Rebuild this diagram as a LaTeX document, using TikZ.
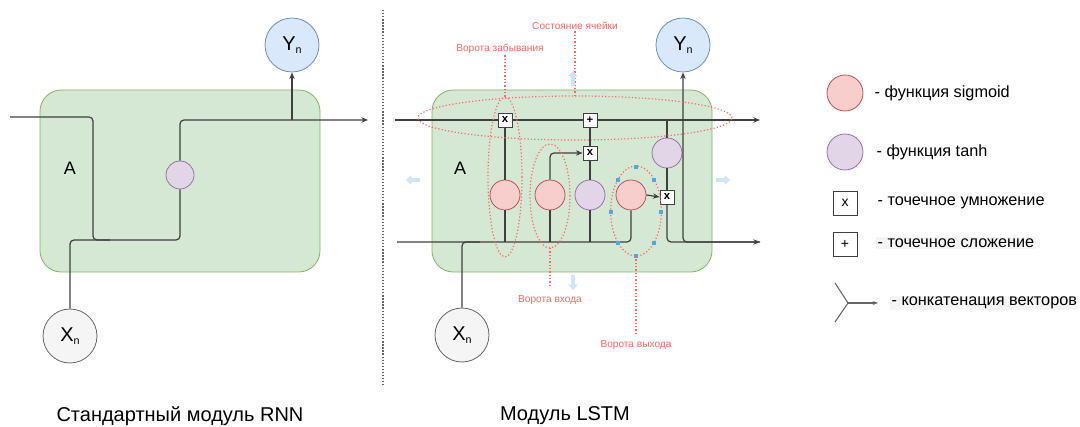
\documentclass[tikz,border=0pt]{standalone}
\usepackage{fontspec}
\setmainfont{Liberation Sans}
\usetikzlibrary{arrows.meta,shapes.geometric}
\definecolor{gfill}{HTML}{D5E8D4}
\definecolor{gline}{HTML}{82B366}
\definecolor{bfill}{HTML}{DAE8FC}
\definecolor{bline}{HTML}{6C8EBF}
\definecolor{xfill}{HTML}{F5F5F5}
\definecolor{xline}{HTML}{666666}
\definecolor{sfill}{HTML}{F8CECC}
\definecolor{sline}{HTML}{B85450}
\definecolor{tfill}{HTML}{E1D5E7}
\definecolor{tline}{HTML}{9673A6}
\definecolor{wirec}{HTML}{404040}
\definecolor{redc}{HTML}{FF6666}
\definecolor{hover}{HTML}{CDE5F7}
\definecolor{handle}{HTML}{4FA8E0}
\begin{document}
\begin{tikzpicture}[x=0.75pt,y=-0.75pt,
  cellbox/.style={draw=gline,fill=gfill,rounded corners=16pt,minimum width=210pt,minimum height=136.5pt,line width=0.6pt},
  ionode/.style={circle,minimum size=40.5pt,inner sep=0pt,line width=0.6pt,font=\fontsize{15}{15}\selectfont},
  ynode/.style={ionode,draw=bline,fill=bfill},
  xnode/.style={ionode,draw=xline,fill=xfill},
  sig/.style={circle,draw=sline,fill=sfill,minimum size=22.5pt,inner sep=0pt,line width=0.6pt},
  tnh/.style={circle,draw=tline,fill=tfill,minimum size=22.5pt,inner sep=0pt,line width=0.6pt},
  opbox/.style={draw=wirec,fill=white,minimum size=10.5pt,inner sep=0pt,line width=0.6pt,font=\bfseries\fontsize{8.5}{8.5}\selectfont},
  wire/.style={draw=wirec,line width=0.9pt,rounded corners=3pt},
  arr/.style={-{Stealth[length=5pt,width=4pt]}},
  gate/.style={draw=redc,line width=0.9pt,dash pattern=on 0.9pt off 1.6pt},
  redlab/.style={text=redc,font=\fontsize{7.6}{7.6}\selectfont,inner sep=1pt},
  bigtxt/.style={font=\fontsize{13.5}{13.5}\selectfont},
  captxt/.style={font=\fontsize{15}{15}\selectfont},
  legtxt/.style={anchor=west,font=\fontsize{12.2}{12.2}\selectfont,inner sep=1pt},
  hov/.style={draw=hover,line width=2.4pt,-{Triangle[length=4pt,width=7pt]}},
  hdl/.style={fill=handle,minimum size=2.4pt,inner sep=0pt}
]
\useasboundingbox (0,0) rectangle (1080,427);

% ================= RNN =================
\node[cellbox] (rbox) at (180,181) {};
\node[bigtxt] (rA) at (70,168) {A};
\node[ynode] (ry) at (292,45) {Y\raisebox{-0.35ex}{\fontsize{8}{8}\selectfont n}};
\node[xnode] (rx) at (70,336) {X\raisebox{-0.35ex}{\fontsize{8}{8}\selectfont n}};
\node[tnh, minimum size=21pt] (rt) at (180,175) {};
\coordinate (rin) at (10,117);
\coordinate (rout) at (368,120);
\coordinate (rbot) at (93,240);
\draw[wire] (rin) -| (rbot) -| (rt.south);
\draw[wire,arr] (rt.north) |- (rout);
\draw[wire,arr] (ry.south |- rout) -- (ry.south);
\draw[wire] (rx.north) |- (110,240);
\node[captxt] (rcap) at (180,416) {Стандартный модуль RNN};

% separator
\coordinate (sepa) at (383,10);
\coordinate (sepb) at (383,385);
\draw[draw=xline,line width=1.1pt,dash pattern=on 1pt off 1.3pt] (sepa) -- (sepb);

% ================= LSTM =================
\node[cellbox] (lbox) at (572,181) {};
\node[bigtxt] (lA) at (460,168) {A};
\node[ynode] (ly) at (683,45) {Y\raisebox{-0.35ex}{\fontsize{8}{8}\selectfont n}};
\node[xnode] (lx) at (462,335) {X\raisebox{-0.35ex}{\fontsize{8}{8}\selectfont n}};

\coordinate (cin) at (395,120);
\coordinate (cout) at (760,120);
\coordinate (hin) at (397,242);
\coordinate (hout) at (760,242);

\node[sig] (fs) at (505,195) {};
\node[sig] (is) at (550,195) {};
\node[tnh] (ct) at (590,195) {};
\node[sig] (os) at (631,195) {};
\node[tnh] (ut) at (667,153) {};

% wires
\draw[wire,arr] (cin) -- (cout);
\draw[wire] (hin) -| (os.south);
\draw[wire] (lx.north) |- (480,242);
\draw[wire,{Stealth[length=5pt,width=4pt]}-] (ly.south) |- (hout);

\node[opbox] (fx) at (505,120) {x};
\node[opbox] (px) at (590,120) {+};
\node[opbox] (mx) at (590,153) {x};
\node[opbox] (ox) at (667,197) {x};

\draw[wire] (fs.north) -- (fx.south);
\draw[wire] (fs.south) -- (fs.south |- hin);
\draw[wire,arr] (is.north) |- (mx.west);
\draw[wire] (is.south) -- (is.south |- hin);
\draw[wire] (ct.north) -- (mx.south);
\draw[wire] (mx.north) -- (px.south);
\draw[wire] (ct.south) -- (ct.south |- hin);
\draw[wire,arr] (os.east) -- (ox.west);
\draw[wire] (ut.north) -- (ut.north |- cin);
\draw[wire] (ut.south) -- (ox.north);
\draw[wire,arr] (ox.south) |- (hout);

% gate ellipses
\draw[gate] (575,118) ellipse [x radius=117.75pt, y radius=16.5pt];
\draw[gate] (505,177) ellipse [x radius=12.75pt, y radius=60pt];
\draw[gate] (550,196) ellipse [x radius=15pt, y radius=39pt];
\draw[gate] (636,211) ellipse [x radius=19pt, y radius=33.75pt];

% selection handles on output gate
\foreach \p in {(636,167),(654,180),(618,180),(611,212),(661,212),(618,243),(654,243),(636,256)}
  \node[hdl] at \p {};

% labels
\node[redlab] (lcs) at (575,26) {Состояние ячейки};
\node[redlab] (lfg) at (500,49) {Ворота забывания};
\node[redlab] (lig) at (550,300) {Ворота входа};
\node[redlab] (log) at (636,345) {Ворота выхода};
\coordinate (ecs) at (575,97);
\coordinate (efg) at (505,98);
\coordinate (eig) at (550,248);
\coordinate (eog) at (636,256);
\draw[gate] (lcs.south) -- (ecs);
\draw[gate] (lfg.south -| efg) -- (efg);
\draw[gate] (eig) -- (550,288);
\draw[gate] (eog) -- (636,334);

% hover arrows
\coordinate (hu) at (573,86);
\draw[hov] (hu) -- (573,71);
\coordinate (hl) at (420,180);
\draw[hov] (hl) -- (406,180);
\coordinate (hr) at (716,180);
\draw[hov] (hr) -- (730,180);
\coordinate (hd) at (573,275);
\draw[hov] (hd) -- (573,290);

\node[captxt] (lcap) at (565,416) {Модуль LSTM};

% ================= Legend =================
\node[sig,minimum size=27pt] (gs) at (845,93) {};
\node[legtxt] (gst) at (873,93) {- функция sigmoid};
\node[tnh,minimum size=27pt] (gt) at (845,152) {};
\node[legtxt] (gtt) at (875,152) {- функция tanh};
\node[opbox,minimum size=18pt,font=\fontsize{10.5}{10.5}\selectfont] (gx) at (845,203) {x};
\node[legtxt] (gxt) at (876,203) {- точечное умножение};
\node[opbox,minimum size=18pt,font=\fontsize{10.5}{10.5}\selectfont] (gp) at (845,244) {+};
\node[legtxt,fill=xfill] (gpt) at (876,243) {- точечное сложение};
\coordinate (ca) at (835,283);
\coordinate (cb) at (835,322);
\coordinate (cj) at (848,303);
\coordinate (ce) at (878,303);
\draw[draw=xline,line width=0.8pt] (ca) -- (cj) -- (cb);
\draw[draw=xline,line width=0.8pt,-{Stealth[length=4pt,width=3pt]}] (cj) -- (ce);
\node[legtxt,fill=xfill] (gct) at (890,303) {- конкатенация векторов};
\end{tikzpicture}
\end{document}
